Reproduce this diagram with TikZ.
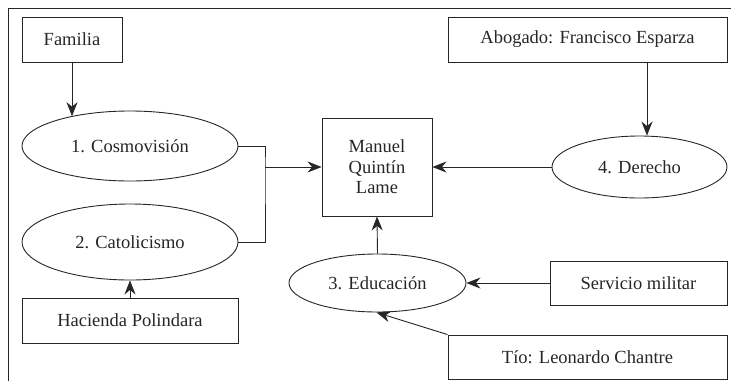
\documentclass[tikz,border=0pt]{standalone}
\usepackage{fontspec}
\setmainfont{Liberation Serif}
\usetikzlibrary{arrows.meta,shapes.geometric}
\definecolor{ink}{HTML}{262626}
\begin{document}
\begin{tikzpicture}[x=1pt,y=-1pt,
  every node/.style={font=\rmfamily\fontsize{18.5}{20.5}\selectfont, text=ink},
  box/.style={draw=ink, line width=0.9pt, rectangle, inner sep=0pt, align=center},
  oval/.style={draw=ink, line width=0.9pt, ellipse, inner sep=0pt},
  conn/.style={draw=ink, line width=0.9pt},
  arr/.style={conn, -{Stealth[length=14pt,width=11pt,inset=4.5pt]}}]
\useasboundingbox (0,0) rectangle (731,381);
\draw[conn] (8,381) -- (8,8) -- (731,8);

\node[box, minimum width=100pt, minimum height=45pt] (fam) at (72,39.5) {Familia};
\node[oval, minimum width=216pt, minimum height=70pt] (cosmo) at (130,146) {1. Cosmovisión};
\node[oval, minimum width=216pt, minimum height=76pt] (catol) at (130,242) {2. Catolicismo};
\node[box, minimum width=216pt, minimum height=45pt] (hac) at (130,320.5) {Hacienda Polindara};
\node[box, minimum width=110pt, minimum height=98pt] (mql) at (377,167) {Manuel\\Quintín\\Lame};
\node[box, minimum width=279pt, minimum height=45pt] (abog) at (587.5,39.5) {Abogado: Francisco Esparza};
\node[oval, minimum width=175pt, minimum height=62pt] (der) at (639.5,167) {4. Derecho};
\node[oval, minimum width=177pt, minimum height=58pt] (edu) at (377.5,283) {3. Educación};
\node[box, minimum width=177pt, minimum height=44pt] (serv) at (638.5,283) {Servicio militar};
\node[box, minimum width=279pt, minimum height=44pt] (tio) at (587.5,357) {Tío: Leonardo Chantre};

\coordinate (j) at (265,167);
\draw[arr] (fam.south) -- (fam.south |- cosmo.153);
\draw[conn] (cosmo.east) -| (j) |- (catol.east);
\draw[arr] (j) -- (mql.west);
\draw[arr] (hac.north) -- (catol.south);
\draw[arr] ([xshift=7.5pt]der.north |- abog.south) -- ([xshift=7.5pt]der.north);
\draw[arr] (der.west) -- (mql.east);
\draw[arr] (edu.north) -- (mql.south);
\draw[arr] (serv.west) -- (edu.east);
\draw[arr] (tio.north west) -- (edu.268);
\end{tikzpicture}
\end{document}
